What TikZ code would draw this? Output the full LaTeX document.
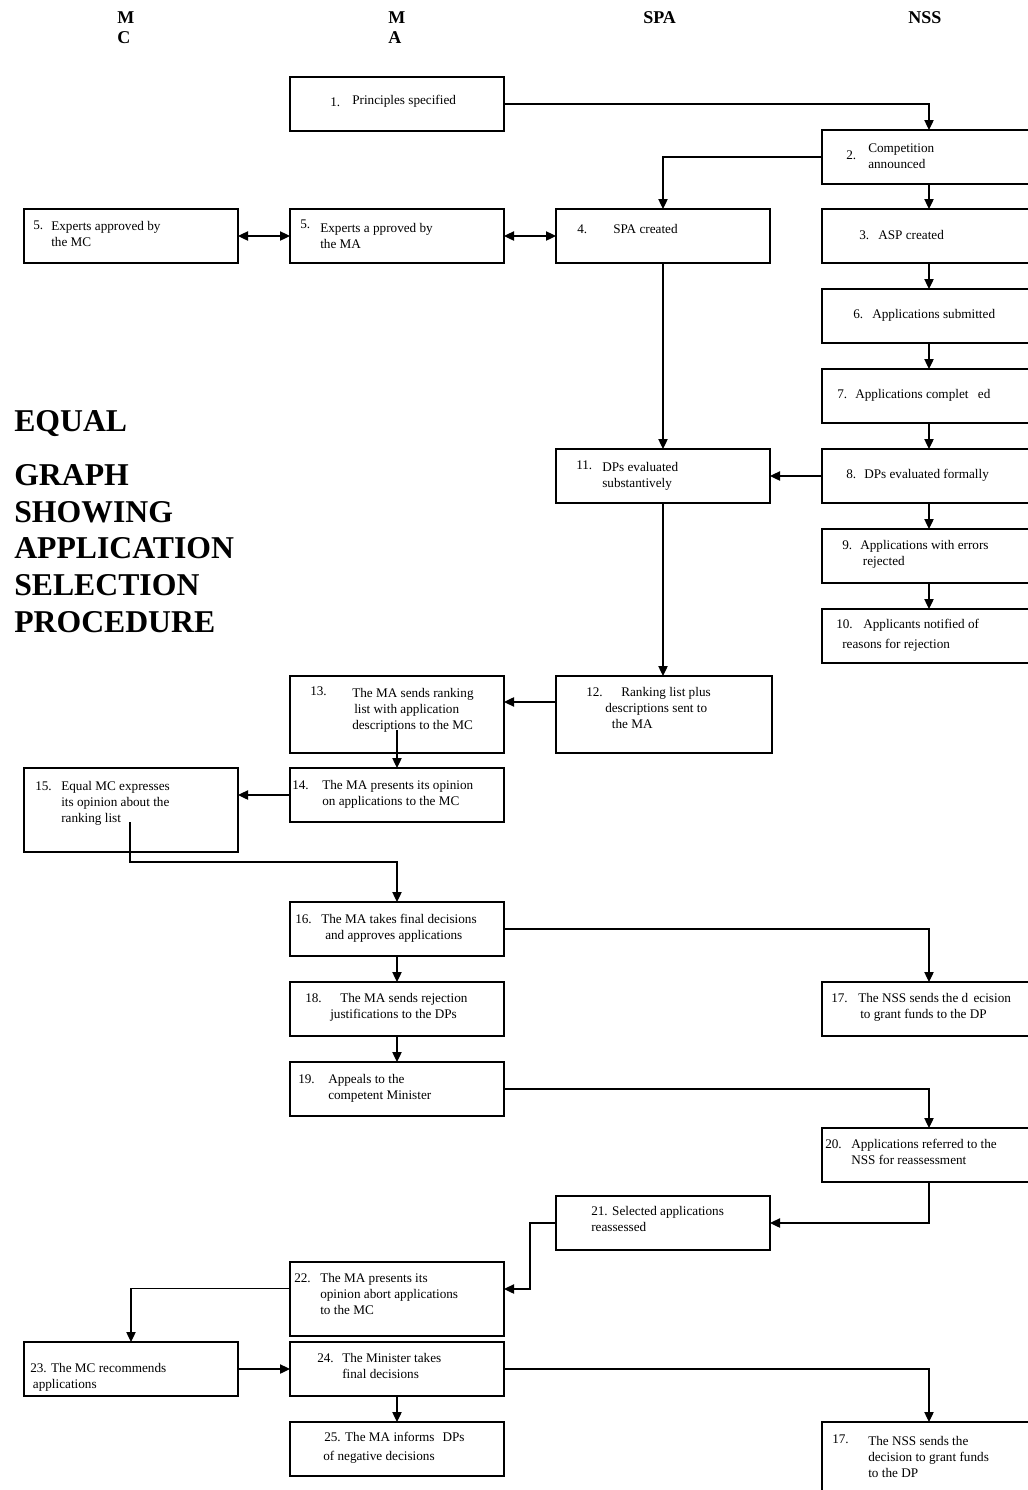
\documentclass[tikz,border=0pt]{standalone}
\usepackage{fontspec}
\setmainfont{Liberation Serif}
\usetikzlibrary{arrows.meta}

\begin{document}
\begin{tikzpicture}[x=0.75pt,y=-0.75pt,
    stepbox/.style={draw,line width=1.1pt,inner sep=0pt,outer sep=0pt,anchor=north west,
      minimum width=160.5pt,minimum height=40.5pt},
    num/.style={anchor=base west,inner sep=0pt,font=\fontsize{9.9}{12}\selectfont},
    txt/.style={num,align=left},
    arr/.style={line width=0.9pt,-{Triangle[length=7.5pt,width=7pt]}},
    arrb/.style={line width=0.9pt,{Triangle[length=7.5pt,width=7pt]}-{Triangle[length=7.5pt,width=7pt]}},
    head/.style={anchor=base west,inner sep=0pt,align=left,font=\bfseries\fontsize{13.5}{15}\selectfont},
    ttl/.style={anchor=base west,inner sep=0pt,align=left,font=\bfseries\fontsize{23.8}{27.4}\selectfont}]
  \useasboundingbox (0,0) rectangle (1028,1490);
  \clip (0,0) rectangle (1028,1490);
  % column heads and title (multi-line texts sit on their last baseline)
  \node[head] (hmc) at (117,43) {M\\C};
  \node[head] (hma) at (388,43) {M\\A};
  \node[head] (hspa) at (643,23) {SPA};
  \node[head] (hnss) at (908,23) {NSS};
  \node[ttl] (title1) at (14,431) {EQUAL};
  \node[ttl] (title2) at (14,632) {GRAPH\\SHOWING\\APPLICATION\\SELECTION\\PROCEDURE};
  % boxes
  \node[stepbox] (b1) at (290,77) {};
  \node[stepbox] (b2) at (822,130) {};
  \node[stepbox] (b5c) at (24,209) {};
  \node[stepbox] (b5a) at (290,209) {};
  \node[stepbox] (b4) at (556,209) {};
  \node[stepbox] (b3) at (822,209) {};
  \node[stepbox] (b6) at (822,289) {};
  \node[stepbox] (b7) at (822,369) {};
  \node[stepbox] (b8) at (822,449) {};
  \node[stepbox] (b11) at (556,449) {};
  \node[stepbox] (b9) at (822,529) {};
  \node[stepbox] (b10) at (822,609) {};
  \node[stepbox,minimum width=162pt,minimum height=57.75pt] (b12) at (556,676) {};
  \node[stepbox,minimum height=57.75pt] (b13) at (290,676) {};
  \node[stepbox] (b14) at (290,768) {};
  \node[stepbox,minimum height=63pt] (b15) at (24,768) {};
  \node[stepbox] (b16) at (290,902) {};
  \node[stepbox] (b18) at (290,982) {};
  \node[stepbox] (b17) at (822,982) {};
  \node[stepbox] (b19) at (290,1062) {};
  \node[stepbox] (b20) at (822,1128) {};
  \node[stepbox] (b21) at (556,1196) {};
  \node[stepbox,minimum height=55.5pt] (b22) at (290,1262) {};
  \node[stepbox] (b23) at (24,1342) {};
  \node[stepbox] (b24) at (290,1342) {};
  \node[stepbox] (b25) at (290,1422) {};
  \node[stepbox,minimum height=60pt] (b17b) at (822,1422) {};
  % box texts
  \node[num] (n1) at (330,106) {1.};
  \node[txt] (t1) at (352,104) {Principles specified};
  \node[num] (n2) at (846,159) {2.};
  \node[txt] (t2) at (868,168) {Competition\\announced};
  \node[num] (n3) at (859,239) {3.};
  \node[txt] (t3) at (878,239) {ASP created};
  \node[num] (n4) at (577,233) {4.};
  \node[txt] (t4) at (613,233) {SPA created};
  \node[num] (n5c) at (33,229) {5.};
  \node[txt] (t5c) at (51,246) {Experts approved by\\the MC};
  \node[num] (n5a) at (300,228) {5.};
  \node[txt] (t5a) at (320,248) {Experts a pproved by\\the MA};
  \node[num] (n6) at (853,318) {6.};
  \node[txt] (t6) at (872,318) {Applications submitted};
  \node[num] (n7) at (837,398) {7.};
  \node[txt] (t7) at (855,398) {Applications complet\hspace{7pt}ed};
  \node[num] (n8) at (846,478) {8.};
  \node[txt] (t8) at (864,478) {DPs evaluated formally};
  \node[num] (n9) at (842,549) {9.};
  \node[txt] (t9) at (860,565) {Applications with errors\\\hspace*{2pt}rejected};
  \node[num] (n10) at (836,628) {10.};
  \node[txt] (t10) at (842,648) {\hspace*{15.75pt}Applicants notified of\\[3pt]reasons for rejection};
  \node[num] (n11) at (576,469) {11.};
  \node[txt] (t11) at (602,487) {DPs evaluated\\substantively};
  \node[num] (n12) at (586,696) {12.};
  \node[txt] (t12) at (605,728) {\hspace*{12pt}Ranking list plus\\descriptions sent to\\\hspace*{5pt}the MA};
  \node[num] (n13) at (310,695) {13.};
  \node[txt] (t13) at (352,729) {The MA sends ranking\\\hspace*{1.5pt}list with application\\descriptions to the MC};
  \node[num] (n14) at (292,789) {14.};
  \node[txt] (t14) at (322,805) {The MA presents its opinion\\on applications to the MC};
  \node[num] (n15) at (35,790) {15.};
  \node[txt] (t15) at (61,822) {Equal MC expresses\\its opinion about the\\ranking list};
  \node[num] (n16) at (295,923) {16.};
  \node[txt] (t16) at (321,939) {The MA takes final decisions\\\hspace*{3pt}and approves applications};
  \node[num] (n18) at (305,1002) {18.};
  \node[txt] (t18) at (330,1018) {\hspace*{7.5pt}The MA sends rejection\\justifications to the DPs};
  \node[num] (n17) at (831,1002) {17.};
  \node[txt] (t17) at (858,1018) {The NSS sends the d\hspace{4pt}ecision\\\hspace*{1.5pt}to grant funds to the DP};
  \node[num] (n19) at (298,1083) {19.};
  \node[txt] (t19) at (328,1099) {Appeals to the\\competent Minister};
  \node[num] (n20) at (825,1148) {20.};
  \node[txt] (t20) at (851,1164) {Applications referred to the\\NSS for reassessment};
  \node[txt] (t21) at (591,1231) {21. Selected applications\\reassessed};
  \node[num] (n22) at (294,1282) {22.};
  \node[txt] (t22) at (320,1314) {The MA presents its\\opinion abort applications\\to the MC};
  \node[txt] (t23) at (30,1388) {23. The MC recommends\\\hspace*{2pt}applications};
  \node[num] (n24) at (317,1362) {24.};
  \node[txt] (t24) at (342,1378) {The Minister takes\\final decisions};
  \node[txt] (t25) at (323,1460) {\hspace*{0.75pt}25. The MA informs\hspace{6pt}DPs\\[2pt]of negative decisions};
  \node[num] (n17b) at (832,1443) {17.};
  \node[txt] (t17b) at (868,1477) {The NSS sends the\\decision to grant funds\\to the DP};
  % connectors
  \coordinate (c13) at (397,730);
  \coordinate (c15) at (130,822);
  \draw[arr] (b1.east) -| (b2.north);
  \draw[arr] (b2.west) -| (b4.north);
  \draw[arr] (b2.south) -- (b3.north);
  \draw[arrb] (b5c.east) -- (b5a.west);
  \draw[arrb] (b5a.east) -- (b4.west);
  \draw[arr] (b4.south) -- (b11.north);
  \foreach \a/\b in {3/6,6/7,7/8,8/9,9/10}{
    \draw[arr] (b\a.south) -- (b\b.north);
  }
  \draw[arr] (b8.west) -- (b11.east);
  \draw[arr] (b11.south) -- (b11.south |- b12.north);
  \draw[arr] ([yshift=9.4pt]b12.west) -- ([yshift=9.4pt]b13.east);
  \draw[arr] (c13) -- (b14.north);
  \draw[arr] (b14.west) -- (b14.west -| b15.east);
  \draw[arr] (c15) -- ++(0,40) -| (b16.north);
  \draw[arr] (b16.south) -- (b18.north);
  \draw[arr] (b16.east) -| (b17.north);
  \draw[arr] (b18.south) -- (b19.north);
  \draw[arr] (b19.east) -| (b20.north);
  \draw[arr] (b20.south) |- (b21.east);
  \draw[arr] (b21.west) -- ++(-26,0) |- ([yshift=7.5pt]b22.east);
  \draw[arr] ([yshift=8pt]b22.west) -| (b23.north);
  \draw[arr] (b23.east) -- (b24.west);
  \draw[arr] (b24.south) -- (b25.north);
  \draw[arr] (b24.east) -| (b17b.north);
\end{tikzpicture}
\end{document}
